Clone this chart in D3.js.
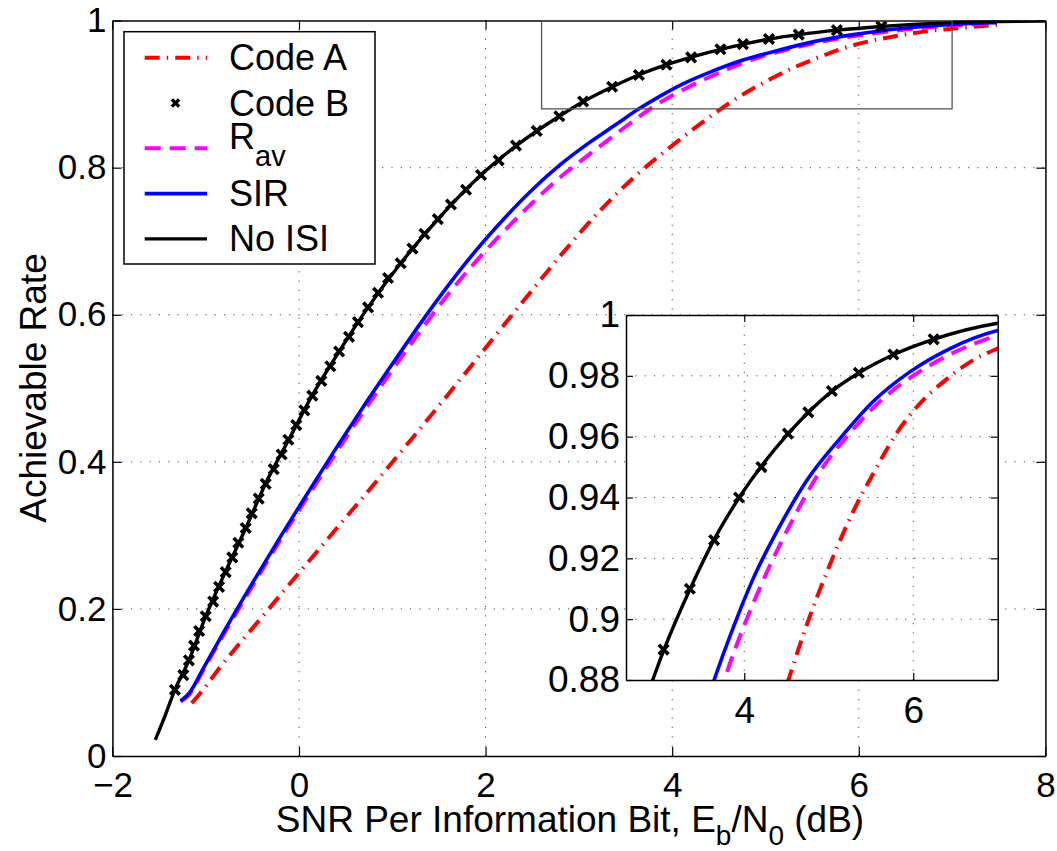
<!DOCTYPE html>
<html>
<head>
<meta charset="utf-8">
<script src="https://cdn.jsdelivr.net/npm/d3@7"></script>
<style>
  body { margin: 0; background: #fff; }
  svg { font-family: "Liberation Sans", Arial, Helvetica, sans-serif; }
</style>
</head>
<body>
<svg width="1057" height="851"></svg>
<script>
// values: [Eb/N0 (dB), rate]
const noIsi = [[-1.54,0.022],[-1.45,0.05],[-1.33,0.09],[-1.18,0.13],[-1.0,0.19],[-0.79,0.25],[-0.57,0.31],
  [-0.36,0.37],[-0.11,0.43],[0.14,0.49],[0.43,0.55],[0.74,0.61],[1.09,0.67],[1.49,0.73],[1.95,0.79],
  [2.33,0.83],[2.79,0.87],[3.05,0.89],[3.36,0.91],[3.64,0.926],[3.94,0.94],[4.52,0.961],[5.04,0.975],
  [5.36,0.981],[5.77,0.987],[6.24,0.992],[7.0,0.9973],[7.5,0.9988],[8.0,0.9995]];

const codeB = [[-1.33,0.09],[-1.24,0.11],[-1.18,0.13],[-1.125,0.15],[-1.07,0.17],[-1.0,0.19],[-0.92,0.21],
  [-0.857,0.23],[-0.786,0.25],[-0.715,0.27],[-0.65,0.29],[-0.571,0.31],[-0.507,0.33],[-0.432,0.35],
  [-0.357,0.37],[-0.271,0.39],[-0.186,0.41],[-0.114,0.43],[-0.029,0.45],[0.057,0.47],[0.143,0.49],
  [0.239,0.51],[0.336,0.53],[0.43,0.55],[0.536,0.57],[0.632,0.59],[0.74,0.61],[0.847,0.63],[0.954,0.65],
  [1.09,0.67],[1.216,0.69],[1.345,0.71],[1.488,0.73],[1.629,0.75],[1.79,0.77],[1.951,0.79],[2.14,0.81],
  [2.326,0.83],[2.548,0.85],[2.79,0.87],[3.045,0.89],[3.356,0.91],[3.643,0.926],[3.938,0.94],[4.203,0.95],
  [4.517,0.961],[4.758,0.968],[5.037,0.975],[5.356,0.981],[5.765,0.987],[6.242,0.992]];

const sir = [[-1.27,0.075],[-1.18,0.085],[-1.03,0.118],[-0.8,0.17],[-0.5,0.235],[-0.2,0.298],[0.1,0.359],
  [0.4,0.419],[0.7,0.477],[1.0,0.533],[1.3,0.588],[1.6,0.64],[1.9,0.688],[2.2,0.731],[2.5,0.77],
  [2.8,0.804],[3.1,0.833],[3.4,0.859],[3.643,0.88],[3.866,0.897],[4.1,0.913],[4.42,0.9306],
  [4.75,0.946],[5.13,0.9593],[5.52,0.9714],[5.96,0.9813],[6.43,0.9889],[7.0,0.9949],[7.48,0.997]];

const rav = [[-1.27,0.074],[-1.18,0.083],[-1.03,0.116],[-0.8,0.167],[-0.5,0.231],[-0.2,0.294],[0.1,0.354],
  [0.4,0.413],[0.7,0.47],[1.0,0.525],[1.3,0.578],[1.6,0.628],[1.9,0.673],[2.2,0.714],[2.5,0.752],
  [2.8,0.787],[3.1,0.817],[3.4,0.846],[3.62,0.867],[3.8,0.883],[4.0,0.898],[4.3,0.9174],[4.576,0.9329],
  [4.891,0.9483],[5.26,0.9615],[5.635,0.9723],[6.07,0.9813],[6.5,0.9879],[7.0,0.9932],[7.48,0.996]];

const codeA = [[-1.15,0.072],[-1.06,0.085],[-0.85,0.12],[-0.45,0.181],[0.0,0.249],[0.4,0.309],[0.8,0.369],
  [1.2,0.43],[1.6,0.492],[2.0,0.555],[2.4,0.618],[2.8,0.68],[3.2,0.738],[3.6,0.788],[4.0,0.83],[4.5,0.878],
  [4.7,0.895],[5.0,0.917],[5.3,0.936],[5.55,0.949],[5.8,0.961],[6.05,0.97],[6.4,0.979],[6.7,0.985],
  [7.0,0.989],[7.48,0.994]];

const xTicks = [-2, 0, 2, 4, 6, 8];
const yTicks = [0, 0.2, 0.4, 0.6, 0.8, 1];
const insetXTicks = [4, 6];
const insetYTicks = [0.88, 0.9, 0.92, 0.94, 0.96, 0.98, 1];
const zoomBox = { x0: 2.6, x1: 7, y0: 0.88, y1: 1 };

const series = [
  { name: "Code A", data: codeA, color: "#ff0000", dash: "15,7,1.5,7", width: 4 },
  { name: "R_av",   data: rav,   color: "#ff00ff", dash: "16,9",       width: 4 },
  { name: "SIR",    data: sir,   color: "#0000ff", dash: null,         width: 3.6 },
  { name: "No ISI", data: noIsi, color: "#000000", dash: null,         width: 3.4 }
];

const svg = d3.select("svg");
const FONT = '"Liberation Sans", Arial, Helvetica, sans-serif';

const xMain = d3.scaleLinear().domain([-2, 8]).range([112.4, 1045.4]);
const yMain = d3.scaleLinear().domain([0, 1]).range([756, 20.6]);
const xIn = d3.scaleLinear().domain([zoomBox.x0, zoomBox.x1]).range([626, 997.7]);
const yIn = d3.scaleLinear().domain([zoomBox.y0, zoomBox.y1]).range([680, 315]);

function fmt(d) {
  return d < 0 ? "\u2212" + Math.abs(d) : String(d);
}

function xMark(s) {
  return `M${-s},${-s}L${s},${s}M${-s},${s}L${s},${-s}`;
}

function panel(id, x, y, xt, yt, o) {
  const [L, R] = x.range(), [B, T] = y.range();
  const g = svg.append("g");

  g.append("rect").attr("x", L).attr("y", T).attr("width", R - L).attr("height", B - T).attr("fill", "#fff");

  g.append("clipPath").attr("id", id).append("rect")
    .attr("x", L).attr("y", T).attr("width", R - L).attr("height", B - T);

  // dotted grid
  const grid = g.append("g").attr("stroke", "#444").attr("stroke-width", 1).attr("stroke-dasharray", "1.2,8.1");
  grid.selectAll(".gx").data(xt.filter(d => x(d) > L + 1 && x(d) < R - 1)).join("line")
    .attr("x1", d => x(d)).attr("x2", d => x(d)).attr("y1", B).attr("y2", T);
  grid.selectAll(".gy").data(yt.filter(d => y(d) < B - 1 && y(d) > T + 1)).join("line")
    .attr("x1", L).attr("x2", R).attr("y1", d => y(d)).attr("y2", d => y(d));

  const plot = g.append("g").attr("clip-path", `url(#${id})`);
  const line = d3.line().x(d => x(d[0])).y(d => y(d[1])).curve(d3.curveMonotoneX);

  series.forEach(s => {
    plot.append("path")
      .attr("d", line(s.data))
      .attr("fill", "none")
      .attr("stroke", s.color)
      .attr("stroke-width", s.width)
      .attr("stroke-dasharray", s.dash);
  });

  plot.selectAll(".mk").data(codeB).join("path")
    .attr("transform", d => `translate(${x(d[0])},${y(d[1])})`)
    .attr("d", xMark(o.mark))
    .attr("fill", "none")
    .attr("stroke", "#000")
    .attr("stroke-width", 3.6);

  // axes with inward ticks on all four sides
  const tl = o.tick;
  const style = a => a.attr("font-size", o.fs).attr("font-family", FONT)
    .call(a => a.select(".domain").attr("stroke", "#000").attr("stroke-width", 1.5))
    .call(a => a.selectAll(".tick line").attr("stroke", "#000").attr("stroke-width", 1.2))
    .call(a => a.selectAll("text").attr("fill", "#000"));

  g.append("g").attr("transform", `translate(0,${B})`)
    .call(d3.axisBottom(x).tickValues(xt).tickSize(-tl).tickSizeOuter(0).tickPadding(o.padX).tickFormat(fmt))
    .call(style);
  g.append("g").attr("transform", `translate(0,${T})`)
    .call(d3.axisTop(x).tickValues(xt).tickSize(-tl).tickSizeOuter(0).tickFormat(""))
    .call(style);
  g.append("g").attr("transform", `translate(${L},0)`)
    .call(d3.axisLeft(y).tickValues(yt).tickSize(-tl).tickSizeOuter(0).tickPadding(o.padY).tickFormat(fmt))
    .call(style);
  g.append("g").attr("transform", `translate(${R},0)`)
    .call(d3.axisRight(y).tickValues(yt).tickSize(-tl).tickSizeOuter(0).tickFormat(""))
    .call(style);

  return g;
}

// main axes
panel("clipMain", xMain, yMain, xTicks, yTicks, { fs: 35, tick: 9, padX: 16, padY: 6, mark: 4.8 });

// rectangle marking the zoomed region
svg.append("rect")
  .attr("x", xMain(zoomBox.x0)).attr("y", yMain(zoomBox.y1))
  .attr("width", xMain(zoomBox.x1) - xMain(zoomBox.x0))
  .attr("height", yMain(zoomBox.y0) - yMain(zoomBox.y1))
  .attr("fill", "none").attr("stroke", "#555").attr("stroke-width", 1.3);

// axis labels
const xl = svg.append("text")
  .attr("x", 570).attr("y", 832)
  .attr("text-anchor", "middle")
  .attr("font-size", 37)
  .attr("font-family", FONT);
xl.append("tspan").text("SNR Per Information Bit, E");
xl.append("tspan").attr("dy", 13).attr("font-size", 28).text("b");
xl.append("tspan").attr("dy", -13).text("/N");
xl.append("tspan").attr("dy", 13).attr("font-size", 28).text("0");
xl.append("tspan").attr("dy", -13).text(" (dB)");

svg.append("text")
  .attr("transform", "translate(46,388) rotate(-90)")
  .attr("text-anchor", "middle")
  .attr("font-size", 37)
  .attr("font-family", FONT)
  .text("Achievable Rate");

// legend
const lg = svg.append("g");
lg.append("rect").attr("x", 124).attr("y", 31.7).attr("width", 251).attr("height", 232.3)
  .attr("fill", "#fff").attr("stroke", "#000").attr("stroke-width", 1.5);

const legendItems = [series[0], { name: "Code B", marker: true }, series[1], series[2], series[3]];
legendItems.forEach((s, i) => {
  const cy = 57.7 + i * 45.3;
  if (s.marker) {
    lg.append("path").attr("transform", `translate(175.5,${cy})`).attr("d", xMark(3.6))
      .attr("fill", "none").attr("stroke", "#000").attr("stroke-width", 3.4);
  } else {
    lg.append("line").attr("x1", 144.7).attr("x2", 207).attr("y1", cy).attr("y2", cy)
      .attr("stroke", s.color).attr("stroke-width", s.width).attr("stroke-dasharray", s.dash);
  }
  const t = lg.append("text").attr("x", 229).attr("font-size", 36).attr("font-family", FONT);
  if (s.name === "R_av") {
    t.attr("y", cy + 1);
    t.append("tspan").text("R");
    t.append("tspan").attr("dy", 17).attr("font-size", 29).text("av");
  } else {
    t.attr("y", cy + 12.5).text(s.name);
  }
});

// inset zoom
panel("clipInset", xIn, yIn, insetXTicks, insetYTicks, { fs: 37, tick: 7, padX: 17, padY: 6, mark: 4.8 });
</script>
</body>
</html>
